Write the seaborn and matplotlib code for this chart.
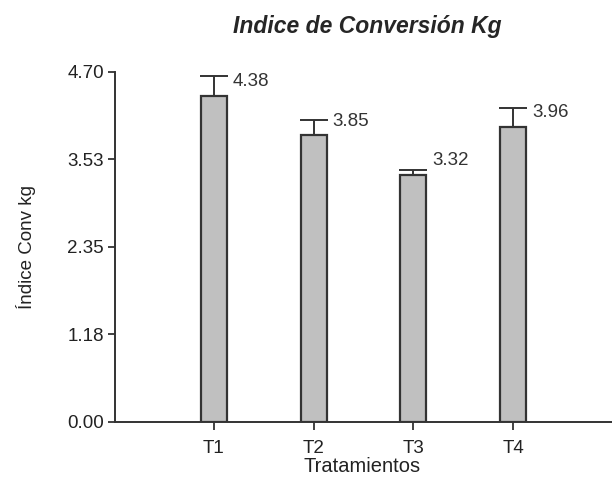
import matplotlib
matplotlib.use("Agg")
import matplotlib.pyplot as plt
import seaborn as sns
import pandas as pd

# Data
tratamientos = ["T1", "T2", "T3", "T4"]
indice = [4.38, 3.85, 3.32, 3.96]
error_sup = [0.26, 0.21, 0.06, 0.26]
y_ticks = [0.00, 1.18, 2.35, 3.53, 4.70]

df = pd.DataFrame({"Tratamiento": tratamientos, "Indice": indice})

sns.set_style("ticks")
plt.rcParams["font.family"] = ["Liberation Sans", "DejaVu Sans"]

fig = plt.figure(figsize=(6.12, 4.79), dpi=100)
ax = fig.add_axes([0.188, 0.119, 0.812, 0.731])

sns.barplot(data=df, x="Tratamiento", y="Indice", color="#c0c0c0",
            edgecolor="#333333", linewidth=1.6, width=0.26,
            errorbar=None, saturation=1, ax=ax)

# Upper error bars only
ax.errorbar(range(len(tratamientos)), indice, yerr=[[0] * 4, error_sup],
            fmt="none", ecolor="#333333", elinewidth=1.4, capsize=10, capthick=1.4)

# Value labels beside the caps
for i, v in enumerate(indice):
    ax.text(i + 0.19, v + 0.19, f"{v:.2f}", fontsize=13.5, color="#333333",
            ha="left", va="center")

ax.set_ylim(0, 4.70)
ax.set_xlim(-0.99, 3.99)
ax.set_yticks(y_ticks)
ax.set_yticklabels([f"{t:.2f}" for t in y_ticks], fontsize=13.5)
ax.tick_params(axis="x", labelsize=13.5, length=6, width=1.3, pad=7, colors="#333333")
ax.tick_params(axis="y", length=5, width=1.3, pad=3, colors="#333333")
for lbl in ax.get_xticklabels() + ax.get_yticklabels():
    lbl.set_color("#222222")

sns.despine(ax=ax, top=True, right=True)
for side in ["left", "bottom"]:
    ax.spines[side].set_linewidth(1.4)
    ax.spines[side].set_color("#333333")

ax.set_xlabel("Tratamientos", fontsize=14.5, color="#222222")
ax.xaxis.set_label_coords(0.497, -0.10)
ax.set_ylabel("Índice Conv kg", fontsize=13.5, color="#222222")
ax.yaxis.set_label_coords(-0.16, 0.5)
fig.text(0.60, 0.945, "Indice de Conversión Kg", fontsize=16.5,
         fontweight="bold", fontstyle="italic", ha="center", va="center")

fig.savefig("out.png", dpi=100)
